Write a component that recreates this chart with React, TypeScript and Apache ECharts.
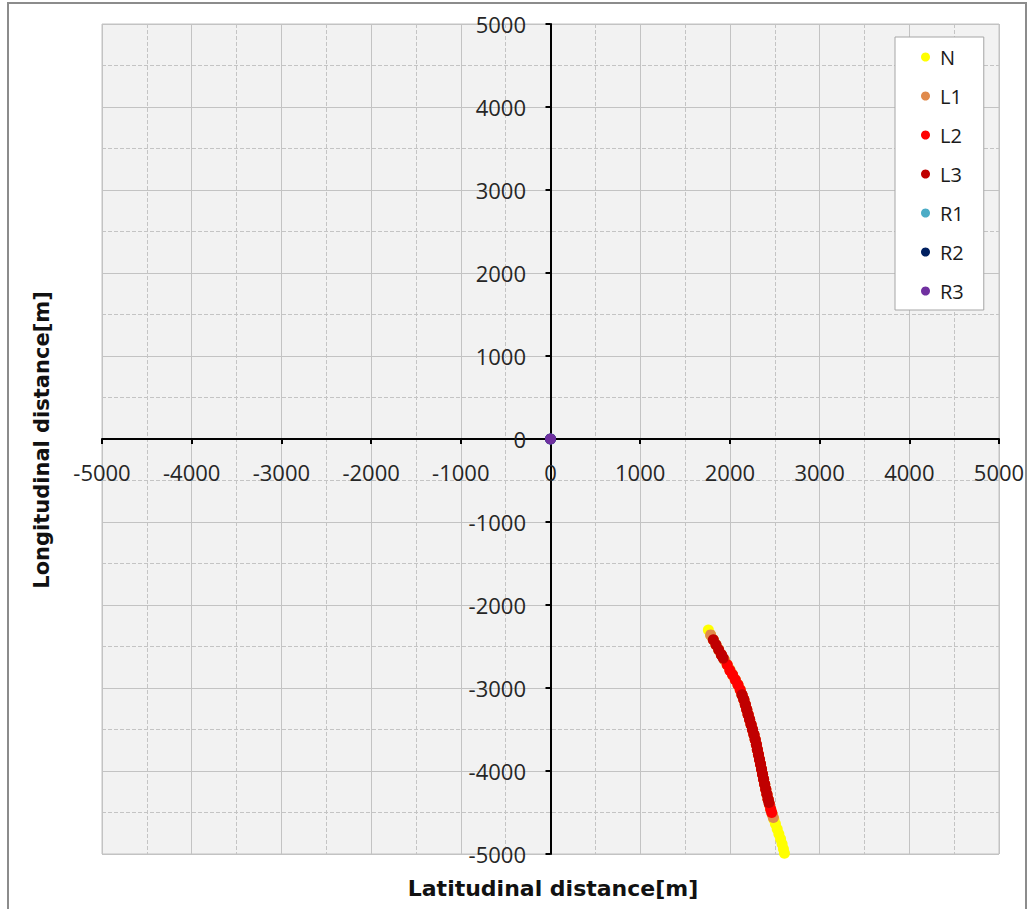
import React, { useEffect, useRef } from "react";
import * as echarts from "echarts";

const seriesNames = ["N", "L1", "L2", "L3", "R1", "R2", "R3"];
const seriesColors = ["#FFFF00", "#E08A4C", "#FF0000", "#C00000", "#4BACC6", "#002060", "#7030A0"];

// [latitudinal x, longitudinal y]
const dataN: number[][] = [
  [1760, -2300], [1785, -2360], [1815, -2420], [1845, -2480], [1875, -2540],
  [1905, -2600], [1938, -2660], [1970, -2720], [2000, -2780], [2030, -2840],
  [2060, -2900], [2090, -2960], [2115, -3020], [2135, -3080], [2155, -3140],
  [2172, -3200], [2188, -3260], [2203, -3320], [2220, -3380], [2236, -3440],
  [2252, -3500], [2268, -3560], [2282, -3620], [2295, -3680], [2306, -3740],
  [2318, -3800], [2330, -3860], [2342, -3920], [2353, -3980], [2364, -4040],
  [2376, -4100], [2388, -4160], [2400, -4220], [2413, -4280], [2426, -4340],
  [2440, -4400], [2455, -4460], [2472, -4520], [2490, -4580], [2508, -4640],
  [2527, -4700], [2546, -4760], [2565, -4820], [2582, -4880], [2597, -4940],
  [2608, -4990],
];

const dataL1: number[][] = [
  [1785, -2360], [1815, -2420], [1845, -2480], [1875, -2540], [1905, -2600],
  [1938, -2660], [1970, -2720], [2000, -2780], [2030, -2840], [2060, -2900],
  [2090, -2960], [2115, -3020], [2135, -3080], [2155, -3140], [2172, -3200],
  [2188, -3260], [2203, -3320], [2220, -3380], [2236, -3440], [2252, -3500],
  [2268, -3560], [2282, -3620], [2295, -3680], [2306, -3740], [2318, -3800],
  [2330, -3860], [2342, -3920], [2353, -3980], [2364, -4040], [2376, -4100],
  [2388, -4160], [2400, -4220], [2413, -4280], [2426, -4340], [2440, -4400],
  [2455, -4460], [2472, -4520], [2484, -4560],
];

const dataL2: number[][] = [
  [1905, -2600], [1970, -2720], [2000, -2790], [2030, -2840], [2060, -2900],
  [2090, -2960], [2115, -3020], [2135, -3080], [2155, -3140], [2172, -3200],
  [2188, -3260], [2203, -3320], [2220, -3380], [2236, -3440], [2252, -3500],
  [2268, -3560], [2282, -3620], [2295, -3680], [2306, -3740], [2318, -3800],
  [2330, -3860], [2342, -3920], [2353, -3980], [2364, -4040], [2376, -4100],
  [2388, -4160], [2400, -4220], [2413, -4280], [2426, -4340], [2440, -4400],
  [2455, -4460], [2466, -4500],
];

const dataL3: number[][] = [
  [1815, -2420], [1845, -2480], [1875, -2540], [1905, -2600], [1925, -2640],
  [2135, -3080], [2155, -3140], [2172, -3200], [2188, -3260], [2203, -3320],
  [2220, -3380], [2236, -3440], [2252, -3500], [2268, -3560], [2282, -3620],
  [2295, -3680], [2306, -3740], [2318, -3800], [2330, -3860], [2342, -3920],
  [2353, -3980], [2364, -4040], [2376, -4100], [2388, -4160], [2400, -4220],
  [2413, -4280], [2426, -4340], [2435, -4380],
];

const dataR1: number[][] = [[0, 0]];
const dataR2: number[][] = [[0, 0]];
const dataR3: number[][] = [[0, 0]];

const allData = [dataN, dataL1, dataL2, dataL3, dataR1, dataR2, dataR3];

const axisMin = -5000;
const axisMax = 5000;
const axisInterval = 1000;

const xTitle = "Latitudinal distance[m]";
const yTitle = "Longitudinal distance[m]";

const FONT = "'Open Sans', 'Noto Sans', sans-serif";
const TITLE_FONT = "'DejaVu Sans', sans-serif";

export default function App() {
  const ref = useRef<HTMLDivElement>(null);

  useEffect(() => {
    if (!ref.current) return;
    const chart = echarts.init(ref.current, undefined, { renderer: "svg" });

    const axisCommon = {
      type: "value" as const,
      min: axisMin,
      max: axisMax,
      interval: axisInterval,
      axisLine: { show: true, onZero: true, lineStyle: { color: "#000", width: 2 } },
      axisTick: { show: true, length: 5, lineStyle: { color: "#000", width: 2 } },
      splitLine: { show: true, lineStyle: { color: "#c3c3c3", width: 1, type: "solid" as const } },
      minorTick: { show: false, splitNumber: 2 },
      minorSplitLine: { show: true, lineStyle: { color: "#c4c4c4", width: 1, type: "dashed" as const } },
    };

    chart.setOption({
      animation: false,
      textStyle: { fontFamily: FONT },
      grid: {
        left: 102,
        top: 24,
        width: 897,
        height: 830,
        show: true,
        backgroundColor: "#f2f2f2",
        borderColor: "#c3c3c3",
        borderWidth: 1,
      },
      xAxis: {
        ...axisCommon,
        axisLabel: {
          fontSize: 22,
          color: "#262626",
          margin: -393,
          fontFamily: FONT,
          formatter: (v: number) => String(v),
        },
      },
      yAxis: {
        ...axisCommon,
        axisLabel: {
          fontSize: 22,
          color: "#262626",
          margin: -424,
          fontFamily: FONT,
          formatter: (v: number) => String(v),
        },
      },
      legend: {
        orient: "vertical",
        left: 895,
        top: 37,
        padding: [10, 20, 9, 26],
        itemGap: 19,
        itemWidth: 19,
        itemHeight: 9,
        icon: "circle",
        backgroundColor: "#ffffff",
        borderColor: "#a6a6a6",
        borderWidth: 1,
        data: seriesNames,
        textStyle: { fontSize: 20, color: "#1a1a1a", lineHeight: 20, fontFamily: FONT },
      },
      graphic: [
        {
          type: "rect",
          shape: { x: 8, y: 3, width: 1018, height: 920 },
          style: { fill: "none", stroke: "#8c8c8c", lineWidth: 2 },
          silent: true,
        },
        {
          type: "text",
          x: 553,
          y: 888,
          style: {
            text: xTitle,
            fontSize: 22,
            fontWeight: "bold",
            fontFamily: TITLE_FONT,
            fill: "#111",
            align: "center",
            verticalAlign: "middle",
          },
        },
        {
          type: "text",
          x: 42,
          y: 440,
          rotation: Math.PI / 2,
          style: {
            text: yTitle,
            fontSize: 21,
            fontWeight: "bold",
            fontFamily: TITLE_FONT,
            fill: "#111",
            align: "center",
            verticalAlign: "middle",
          },
        },
      ],
      series: seriesNames.map((name, i) => ({
        name,
        type: "scatter",
        symbol: "circle",
        symbolSize: 11,
        data: allData[i],
        itemStyle: { color: seriesColors[i], opacity: 1 },
        z: 2 + i,
      })),
    });

    return () => chart.dispose();
  }, []);

  return (
    <div
      ref={ref}
      style={{ position: "absolute", left: 0, top: 0, width: 1029, height: 909, background: "#fff" }}
    />
  );
}
